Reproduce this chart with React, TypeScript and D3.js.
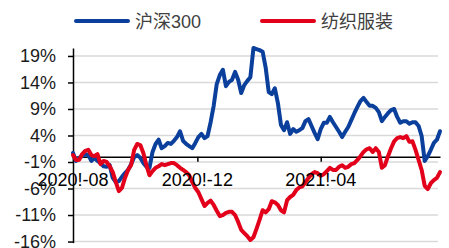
import * as d3 from "d3";
import { useEffect, useRef } from "react";

// sample dates, every 3 days
const dates = [
  "2020-08-01", "2020-08-04", "2020-08-07", "2020-08-10", "2020-08-13", "2020-08-16", "2020-08-19", "2020-08-22", "2020-08-25", "2020-08-28", "2020-08-31",
  "2020-09-03", "2020-09-06", "2020-09-09", "2020-09-12", "2020-09-15", "2020-09-18", "2020-09-21", "2020-09-24", "2020-09-27", "2020-09-30",
  "2020-10-03", "2020-10-06", "2020-10-09", "2020-10-12", "2020-10-15", "2020-10-18", "2020-10-21", "2020-10-24", "2020-10-27", "2020-10-30",
  "2020-11-02", "2020-11-05", "2020-11-08", "2020-11-11", "2020-11-14", "2020-11-17", "2020-11-20", "2020-11-23", "2020-11-26", "2020-11-29",
  "2020-12-02", "2020-12-05", "2020-12-08", "2020-12-11", "2020-12-14", "2020-12-17", "2020-12-20", "2020-12-23", "2020-12-26", "2020-12-29",
  "2021-01-01", "2021-01-04", "2021-01-07", "2021-01-10", "2021-01-13", "2021-01-16", "2021-01-19", "2021-01-22", "2021-01-25", "2021-01-28", "2021-01-31",
  "2021-02-03", "2021-02-06", "2021-02-09", "2021-02-12", "2021-02-15", "2021-02-18", "2021-02-21", "2021-02-24", "2021-02-27",
  "2021-03-02", "2021-03-05", "2021-03-08", "2021-03-11", "2021-03-14", "2021-03-17", "2021-03-20", "2021-03-23", "2021-03-26", "2021-03-29",
  "2021-04-01", "2021-04-04", "2021-04-07", "2021-04-10", "2021-04-13", "2021-04-16", "2021-04-19", "2021-04-22", "2021-04-25", "2021-04-28",
  "2021-05-01", "2021-05-04", "2021-05-07", "2021-05-10", "2021-05-13", "2021-05-16", "2021-05-19", "2021-05-22", "2021-05-25", "2021-05-28", "2021-05-31",
  "2021-06-03", "2021-06-06", "2021-06-09", "2021-06-12", "2021-06-15", "2021-06-18", "2021-06-21", "2021-06-24", "2021-06-27", "2021-06-30",
  "2021-07-03", "2021-07-06", "2021-07-09", "2021-07-12", "2021-07-15", "2021-07-18", "2021-07-21", "2021-07-24", "2021-07-27",
];

// 沪深300 cumulative return, %
const hs300 = [
  0.7, -0.8, -0.2, 0.1, 0.5, 0.3, -0.8, -0.2, -0.8, -1.2, -1.8,
  -1.9, -1.6, -4.0, -4.8, -4.6, -3.8, -3.1, -2.5, -1.4, -0.1,
  0.3, -0.2, -1.2, -1.9, -2.1, 0.9, 2.4, 3.2, 1.6, 2.0,
  2.6, 2.4, 3.0, 3.7, 4.8, 3.0, 2.4, 2.0, 1.6, 2.6,
  3.7, 4.3, 3.5, 3.9, 6.5, 9.6, 13.7, 15.4, 16.4, 13.3,
  14.1, 14.5, 16.0, 14.5, 12.0, 13.5, 14.3, 15.0, 20.5, 20.3, 20.1,
  19.8, 16.8, 12.2, 11.8, 12.9, 10.1, 6.0, 5.0, 6.5,
  4.3, 5.2, 4.7, 5.0, 5.4, 6.7, 7.1, 5.8, 4.5, 3.3,
  5.2, 6.4, 6.4, 7.5, 6.5, 5.6, 4.7, 3.7, 4.7, 5.6,
  6.9, 8.2, 9.4, 10.5, 11.1, 10.3, 9.6, 9.6, 9.2, 8.4, 6.7,
  7.5, 8.2, 8.8, 9.0, 7.5, 6.4, 6.7, 6.7, 6.2, 6.5,
  6.5, 5.8, 3.9, -0.8, 0.1, 1.3, 2.6, 3.2, 4.8,
];

// 纺织服装 cumulative return, %
const textile = [
  0.3, -0.6, -0.6, 0.5, 1.1, 1.3, 0.3, 0.1, 0.5, -1.4, -0.8,
  -1.0, -1.8, -2.9, -4.8, -6.5, -5.9, -4.0, -2.5, -1.6, 1.3,
  2.4, 2.2, 0.7, -1.6, -3.5, -2.7, -2.1, -1.8, -1.4, -1.6,
  -1.4, -1.2, -1.2, -1.6, -2.1, -2.5, -2.9, -3.5, -4.8, -5.9,
  -6.7, -8.0, -9.3, -8.7, -8.3, -9.1, -10.2, -11.2, -11.0, -10.6,
  -10.4, -10.4, -11.0, -12.3, -13.8, -14.4, -15.0, -15.7, -15.2, -13.6, -11.9,
  -10.1, -10.5, -9.9, -8.4, -8.6, -9.1, -10.1, -10.5, -8.2,
  -7.6, -7.2, -6.3, -5.8, -5.6, -4.8, -4.0, -3.3, -2.9, -3.1,
  -3.6, -3.3, -2.7, -2.1, -2.5, -2.5, -1.9, -1.6, -2.1, -1.9,
  -1.4, -1.2, -0.6, 0.1, 0.9, 1.4, 1.6, 0.9, 1.6, 0.9, -2.1,
  -1.6, 0.1, 1.6, 2.9, 3.5, 3.7, 3.5, 3.9, 2.8, 2.9,
  1.3, -0.6, -2.5, -5.5, -6.1, -5.0, -4.4, -4.0, -2.9,
];

const yTicks = [-16, -11, -6, -1, 4, 9, 14, 19];
const xTicks = ["2020-08-01", "2020-12-01", "2021-04-01"];

const seriesNames = ["沪深300", "纺织服装"];
const seriesColors = ["#0b3f9c", "#e2001a"];

const FONT = "'Liberation Sans', Arial, 'Noto Sans CJK SC', sans-serif";

const Chart = () => {
  const ref = useRef(null);

  const render = () => {
    const width = 449;
    const height = 248;
    const left = 73;
    const right = 440;
    const parse = d3.timeParse("%Y-%m-%d");
    const xDates = dates.map((d) => parse(d) as Date);

    const svg = d3.select(ref.current);
    svg.selectAll("*").remove();
    svg.attr("width", width).attr("height", height).attr("viewBox", [0, 0, width, height]);

    const x = d3.scaleTime().domain([xDates[0], xDates[xDates.length - 1]]).range([left, right]);
    const y = d3.scaleLinear().domain([-16.2, 20.5]).range([242.6, 48]);

    // grid
    svg
      .append("g")
      .selectAll()
      .data(yTicks)
      .join("line")
      .attr("x1", left)
      .attr("x2", 438)
      .attr("y1", (d) => y(d))
      .attr("y2", (d) => y(d))
      .attr("stroke", "#d9d9d9")
      .attr("stroke-width", 1.5);

    // y axis
    const yAxis = svg
      .append("g")
      .attr("transform", `translate(${left},0)`)
      .call(
        d3
          .axisLeft(y)
          .tickValues(yTicks)
          .tickSize(5)
          .tickPadding(12)
          .tickSizeOuter(0)
          .tickFormat((d) => `${d}%`)
      );
    yAxis.select(".domain").attr("stroke", "#000").attr("stroke-width", 1.5);
    yAxis.selectAll(".tick line").attr("stroke", "#000").attr("stroke-width", 1.5);
    yAxis
      .selectAll(".tick text")
      .attr("fill", "#1a1a1a")
      .attr("font-size", 18)
      .attr("font-family", FONT);

    // x axis line at 0
    const xAxis = svg
      .append("g")
      .attr("transform", `translate(0,${y(0)})`)
      .call(
        d3
          .axisBottom(x)
          .tickValues(xTicks.map((d) => parse(d) as Date))
          .tickSize(5)
          .tickSizeOuter(0)
          .tickFormat(() => "")
      );
    xAxis.select(".domain").attr("stroke", "#000").attr("stroke-width", 1.5);
    xAxis.selectAll(".tick line").attr("stroke", "#000").attr("stroke-width", 1.5);

    // lines
    [hs300, textile].forEach((vals, i) => {
      const line = d3
        .line<number>()
        .x((_, j) => x(xDates[j]))
        .y((d) => y(d));
      svg
        .append("path")
        .datum(vals)
        .attr("fill", "none")
        .attr("stroke", seriesColors[i])
        .attr("stroke-width", 4)
        .attr("stroke-linejoin", "round")
        .attr("stroke-linecap", "round")
        .attr("d", line);
    });

    // x tick labels on top of the lines
    svg
      .append("g")
      .selectAll()
      .data(xTicks)
      .join("text")
      .attr("x", (d) => x(parse(d) as Date))
      .attr("y", 186)
      .attr("text-anchor", "middle")
      .attr("font-size", 18)
      .attr("font-family", FONT)
      .attr("fill", "#000")
      .text((d) => d3.timeFormat("%Y!-%m")(parse(d) as Date));

    // legend
    const legendX = [76, 262];
    const legend = svg
      .append("g")
      .selectAll()
      .data(seriesNames)
      .join("g")
      .attr("transform", (_, i) => `translate(${legendX[i]},21)`);
    legend
      .append("line")
      .attr("x1", 0)
      .attr("x2", 52)
      .attr("stroke", (_, i) => seriesColors[i])
      .attr("stroke-width", 4)
      .attr("stroke-linecap", "round");
    legend
      .append("text")
      .attr("x", 59)
      .attr("y", 7)
      .attr("font-size", 18)
      .attr("font-family", FONT)
      .attr("fill", "#404040")
      .text((d) => d);
  };

  // eslint-disable-next-line react-hooks/exhaustive-deps
  useEffect(() => { render() }, []);

  return <svg ref={ref} style={{ position: "absolute", left: 0, top: 0 }}></svg>;
};

export default function App() {
  return <Chart />;
}
